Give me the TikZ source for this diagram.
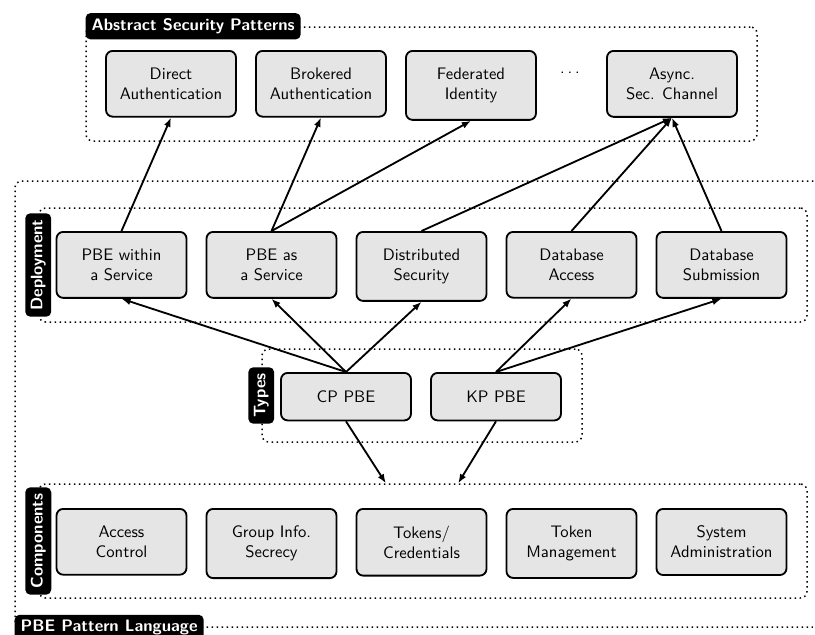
\documentclass[tikz,border=0pt]{standalone}
\usetikzlibrary{arrows.meta,fit,positioning}
\begin{document}
\begin{tikzpicture}[
  x=0.6pt, y=-0.6pt,
  pattern/.style={draw, line width=1.1pt, fill=black!10, rounded corners=4pt,
    align=center, font=\sffamily, minimum width=78pt, inner ysep=10.2pt, anchor=north},
  typebox/.style={pattern, minimum height=28.5pt, inner ysep=4pt},
  group/.style={draw, line width=0.9pt, dash pattern=on 0.9pt off 2.1pt,
    rounded corners=4pt, inner sep=0pt},
  tag/.style={fill=black, text=white, font=\sffamily\bfseries, rounded corners=3pt,
    inner xsep=3.6pt, inner ysep=3.3pt},
  arr/.style={-{Latex[length=5.5pt,width=4.2pt]}, line width=1.1pt},
]
\useasboundingbox (0,0) rectangle (815,635);

% group frames
\node[group, fit={(15,181) (840,627)}] (lang) {};
\node[group, fit={(86,27) (757,141)}] (asp) {};
\node[group, fit={(39,208) (807,322)}] (dep) {};
\node[group, fit={(262,349) (582,442)}] (typ) {};
\node[group, fit={(39,484) (807,598)}] (comp) {};

% group tags
\node[tag, anchor=west] at (asp.north west) {Abstract Security Patterns};
\node[tag, anchor=west] at (lang.south west) {PBE Pattern Language};
\node[tag, rotate=90] at (dep.west) {Deployment};
\node[tag, rotate=90] at (typ.west) {Types};
\node[tag, rotate=90] at (comp.west) {Components};

% abstract security patterns
\node[pattern] (dir) at (171,50) {Direct\\Authentication};
\node[pattern] (brk) at (321,50) {Brokered\\Authentication};
\node[pattern] (fed) at (471,50) {Federated\\Identity};
\node[font=\sffamily, inner sep=0pt] (more) at (570,73) {.\kern1.7pt.\kern1.7pt.};
\node[pattern] (asy) at (672,50) {Async.\\Sec. Channel};

% deployment
\node[pattern] (within) at (121.5,231) {PBE within\\a Service};
\node[pattern] (asserv) at (271.5,231) {PBE as\\a Service};
\node[pattern] (dist) at (421.5,231) {Distributed\\Security};
\node[pattern] (dba) at (571.5,231) {Database\\Access};
\node[pattern] (dbs) at (721.5,231) {Database\\Submission};

% types
\node[typebox] (cp) at (346,372) {CP PBE};
\node[typebox] (kp) at (496,372) {KP PBE};

% components
\node[pattern] (acc) at (121.5,508) {Access\\Control};
\node[pattern] (grp) at (271.5,508) {Group Info.\\Secrecy};
\node[pattern] (tok) at (421.5,508) {Tokens/\\Credentials};
\node[pattern] (tkm) at (571.5,508) {Token\\Management};
\node[pattern] (sys) at (721.5,508) {System\\Administration};

% relations
\draw[arr] (within.north) -- (dir.south);
\draw[arr] (asserv.north) -- (brk.south);
\draw[arr] (asserv.north) -- (fed.south);
\draw[arr] (dist.north) -- (asy.south);
\draw[arr] (dba.north) -- (asy.south);
\draw[arr] (dbs.north) -- (asy.south);

\draw[arr] (cp.north) -- (within.south);
\draw[arr] (cp.north) -- (asserv.south);
\draw[arr] (cp.north) -- (dist.south);
\draw[arr] (kp.north) -- (dba.south);
\draw[arr] (kp.north) -- (dbs.south);

\draw[arr] (cp.south) -- (comp);
\draw[arr] (kp.south) -- (comp);
\end{tikzpicture}
\end{document}
